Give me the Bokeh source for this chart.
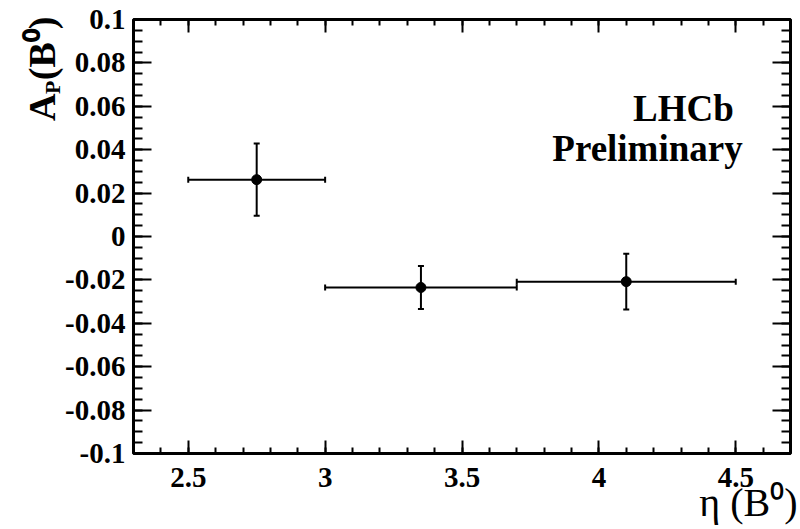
from bokeh.plotting import figure
from bokeh.models import (ColumnDataSource, Range1d, FixedTicker, LinearAxis,
                          CustomJSTickFormatter, Whisker, TeeHead, Label, Title)
from bokeh.embed import file_html
from bokeh.resources import INLINE

# ---- data ----
eta = [2.75, 3.35, 4.10]
eta_lo = [2.50, 3.00, 3.70]
eta_hi = [3.00, 3.70, 4.50]
ap = [0.0262, -0.0235, -0.0208]
ap_err = [0.0166, 0.0099, 0.0128]

x_ticks = [2.5, 3.0, 3.5, 4.0, 4.5]
x_minor = [round(2.3 + 0.1 * i, 2) for i in range(25)]
y_ticks = [-0.1, -0.08, -0.06, -0.04, -0.02, 0.0, 0.02, 0.04, 0.06, 0.08, 0.1]
y_minor = [round(-0.1 + 0.005 * i, 3) for i in range(41)]

src = ColumnDataSource(dict(
    x=eta, xlo=eta_lo, xhi=eta_hi, y=ap,
    ylo=[a - e for a, e in zip(ap, ap_err)],
    yhi=[a + e for a, e in zip(ap, ap_err)],
))

FONT = "Liberation Serif"
TICK_PX = "29px"

p = figure(width=800, height=529, output_backend="svg", toolbar_location=None,
           x_range=Range1d(2.3, 4.7), y_range=Range1d(-0.1, 0.1),
           x_axis_location=None, y_axis_location=None,
           min_border_left=133, min_border_right=10,
           min_border_top=19, min_border_bottom=76)
p.background_fill_color = "white"
p.border_fill_color = "white"
p.outline_line_color = "black"
p.outline_line_width = 3
p.xgrid.grid_line_color = None
p.ygrid.grid_line_color = None

fmt = CustomJSTickFormatter(code="return String(Math.round(tick*10000)/10000);")
blank = CustomJSTickFormatter(code="return '';")


def make_axis(ticks, minor, labels, tin, tmin, standoff):
    ax = LinearAxis(ticker=FixedTicker(ticks=ticks, minor_ticks=minor),
                    formatter=fmt if labels else blank)
    ax.axis_line_color = None
    ax.major_tick_in = tin
    ax.major_tick_out = 0
    ax.minor_tick_in = tmin
    ax.minor_tick_out = 0
    ax.major_tick_line_width = 2
    ax.minor_tick_line_width = 2
    ax.major_tick_line_color = "black"
    ax.minor_tick_line_color = "black"
    ax.major_label_text_font = FONT
    ax.major_label_text_font_style = "bold"
    ax.major_label_text_color = "black"
    ax.major_label_text_font_size = TICK_PX if labels else "0px"
    ax.major_label_standoff = standoff if labels else 0
    return ax


p.add_layout(make_axis(y_ticks, y_minor, True, 18, 9, 8), "left")
p.add_layout(make_axis(y_ticks, y_minor, False, 18, 9, 0), "right")
p.add_layout(make_axis(x_ticks, x_minor, True, 13, 6, 14), "below")
p.add_layout(make_axis(x_ticks, x_minor, False, 13, 6, 0), "above")

# error bars
p.add_layout(Whisker(source=src, base="y", lower="xlo", upper="xhi", dimension="width",
                     line_color="black", line_width=2,
                     upper_head=TeeHead(size=6, line_width=2, line_color="black"),
                     lower_head=TeeHead(size=6, line_width=2, line_color="black")))
p.add_layout(Whisker(source=src, base="x", lower="ylo", upper="yhi", dimension="height",
                     line_color="black", line_width=2,
                     upper_head=TeeHead(size=6, line_width=2, line_color="black"),
                     lower_head=TeeHead(size=6, line_width=2, line_color="black")))
p.scatter("x", "y", source=src, size=10, color="black")

# in-frame labels
def lab(text, x, y, size):
    p.add_layout(Label(x=x, y=y, x_units="screen", y_units="screen", text=text,
                       text_font=FONT, text_font_size=f"{size}px",
                       text_font_style="bold", text_color="black",
                       text_align="center", text_baseline="middle"))

lab("LHCb", 550, 345, 37)
lab("Preliminary", 514, 305, 37)


# axis titles as Title pieces in the side panels
def piece(text, side, size, offset, standoff, bold=True):
    p.add_layout(Title(text=text, align="right", vertical_align="middle",
                       offset=offset, standoff=standoff,
                       text_font=FONT, text_font_size=f"{size}px",
                       text_font_style="bold" if bold else "normal",
                       text_color="black"), side)

# y title: A_P(B^0)
piece("P", "left", 22, 61, -6)
piece("A", "left", 38, 74, -44)
piece("(B\u2070)", "left", 38, -3, -44)

# x title: eta (B^0)
piece("\u03b7 (B\u2070)", "below", 40, -7, -22, bold=False)

open("out.html", "w").write(file_html(p, INLINE))
